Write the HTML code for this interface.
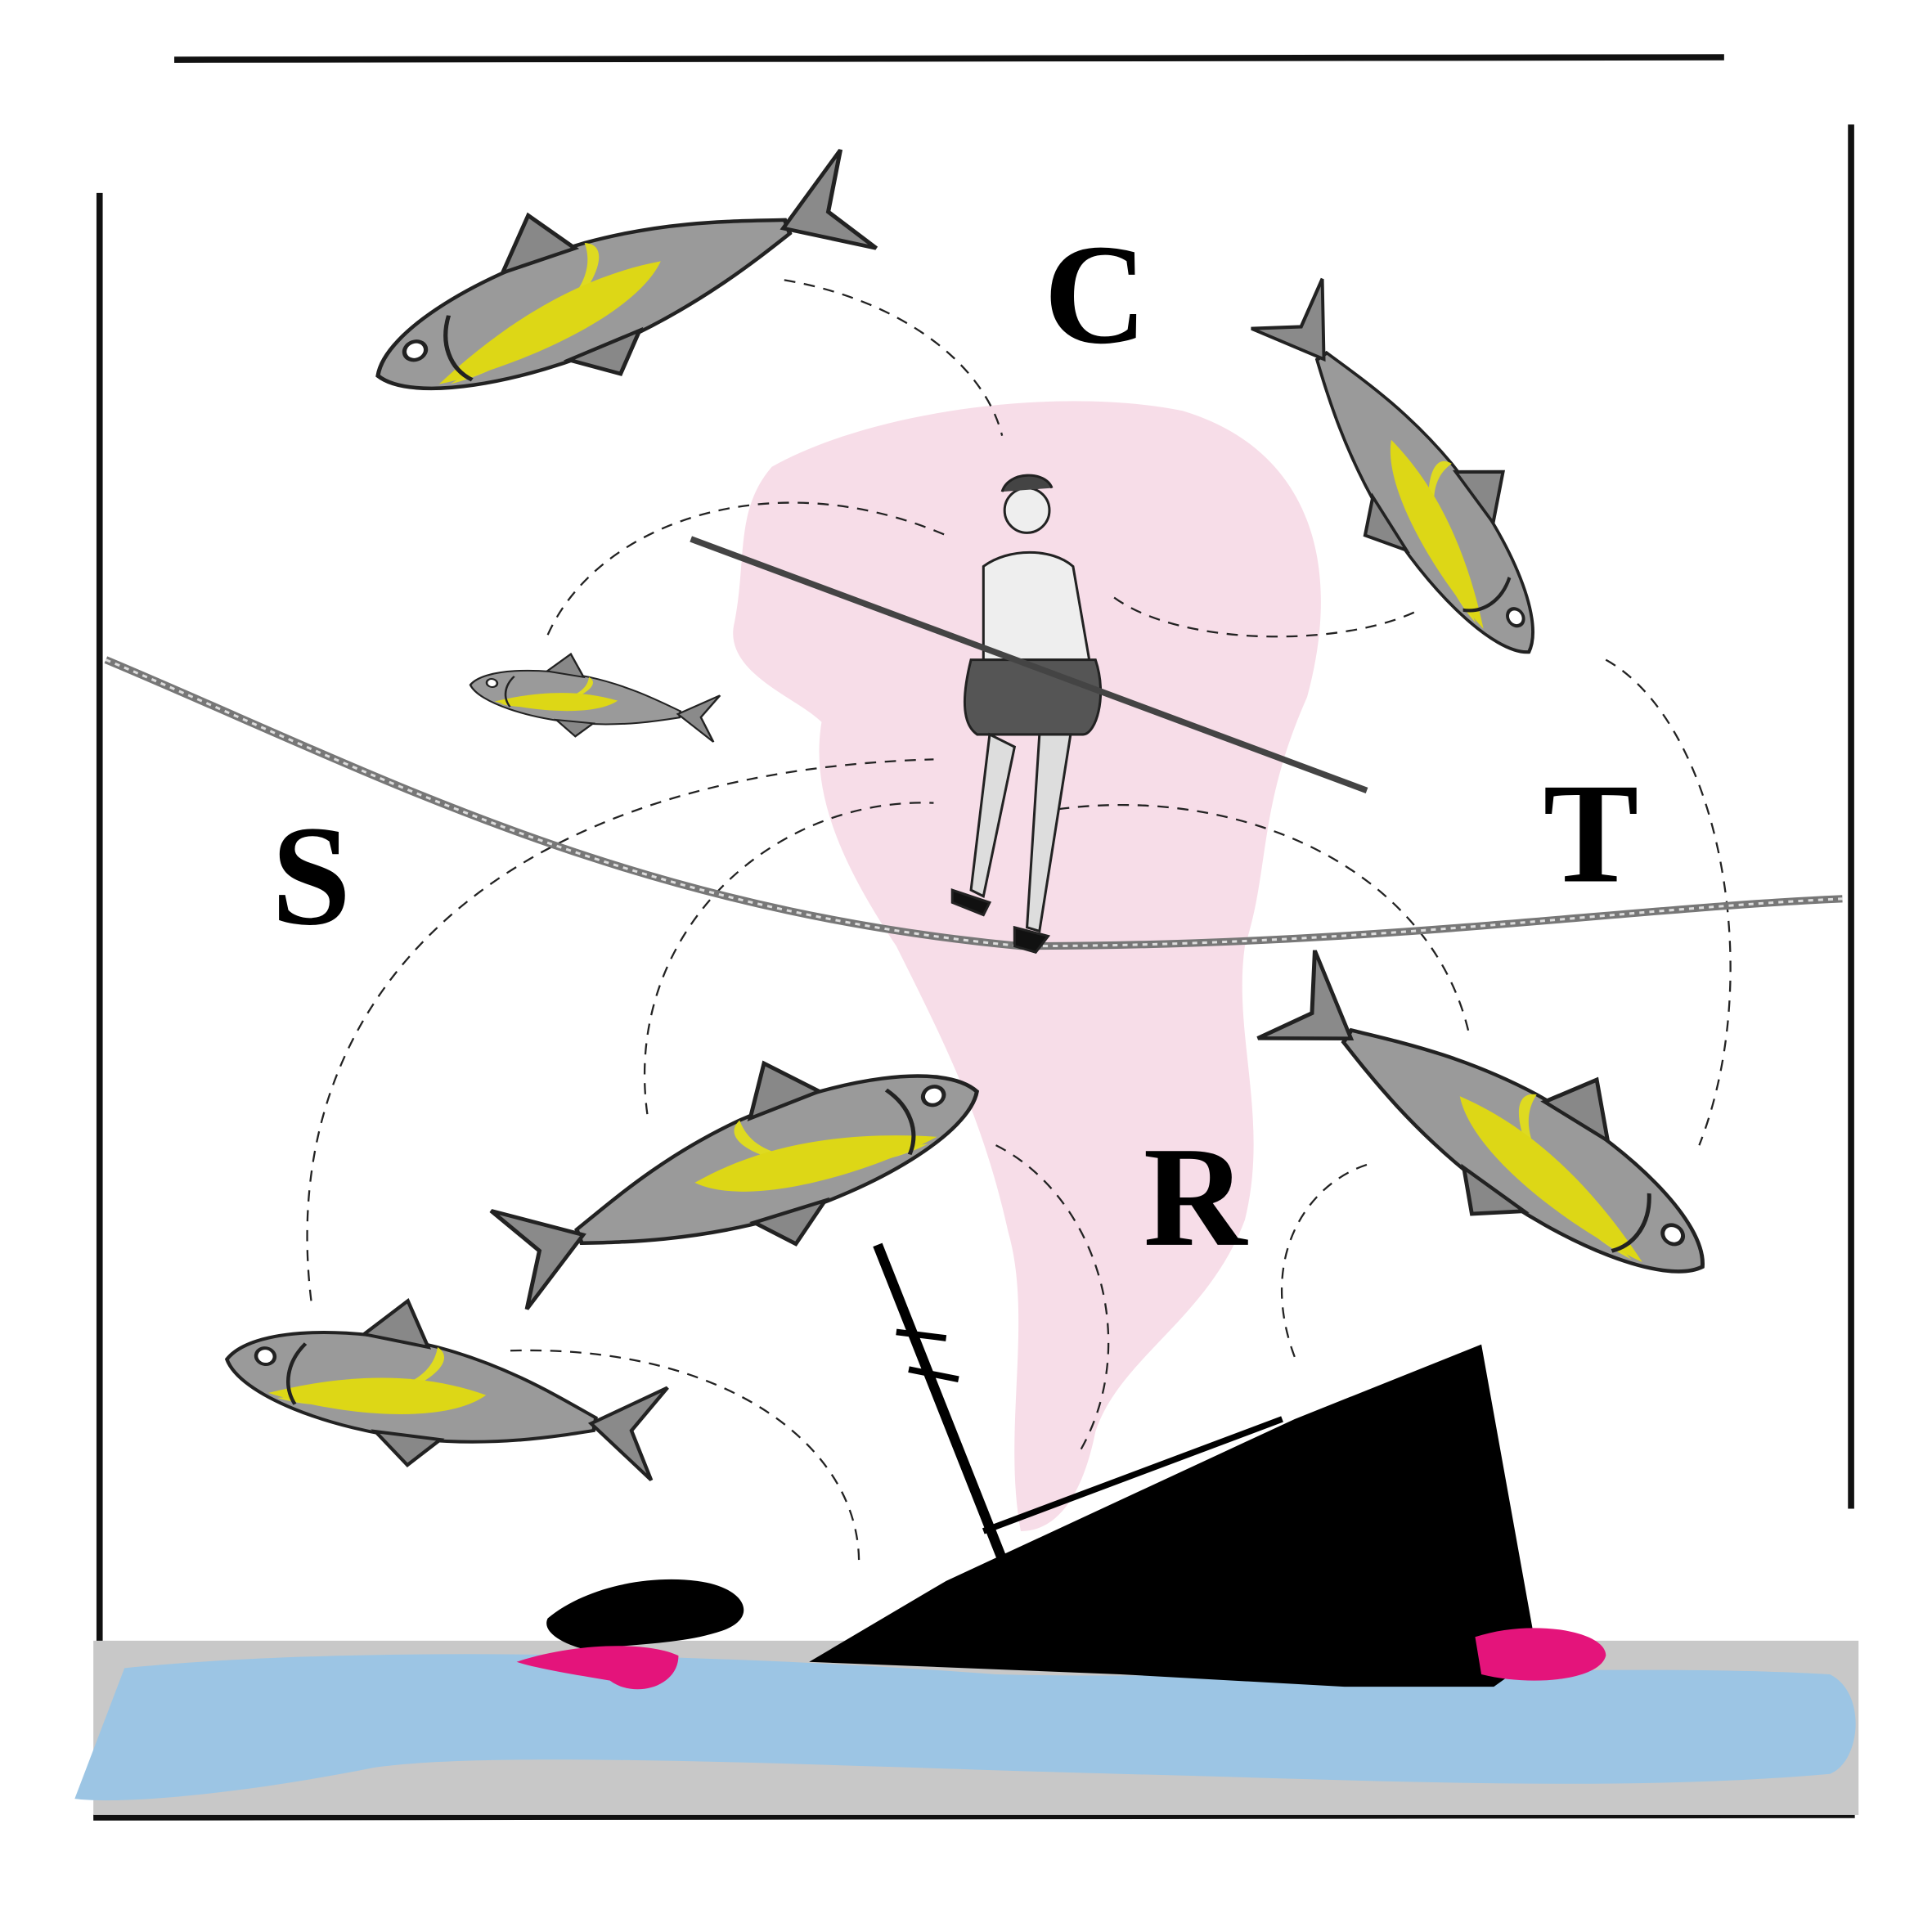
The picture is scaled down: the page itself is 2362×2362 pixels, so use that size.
<!DOCTYPE html>
<html><head><meta charset="utf-8"><style>
html,body{margin:0;padding:0;background:#fff}
svg{display:block}
</style></head><body>
<svg width="2362" height="2362" viewBox="0 0 1552 1552" xmlns="http://www.w3.org/2000/svg">
<defs>
<g id="fish">
 <path d="M100,0 C90,-22 40,-34 -10,-30 C-50,-26 -80,-12 -100,-4 L-100,4 C-80,12 -50,24 -10,28 C40,32 90,20 100,0 Z" fill="#9a9a9a" stroke="#222" stroke-width="2"/>
 <path d="M-10,-30 C-30,-20 20,25 70,18 C40,10 -10,5 -10,-30 Z" fill="#e2dd1a" opacity="0.95"/>
 <path d="M-40,-6 C-20,18 40,22 75,16 C40,-2 0,-14 -40,-6Z" fill="#ddd716"/>
 <path d="M-98,0 L-135,-30 L-120,0 L-135,28 Z" fill="#8a8a8a" stroke="#222" stroke-width="2"/>
 <path d="M-5,-29 L10,-55 L30,-30 Z" fill="#888" stroke="#222" stroke-width="2"/>
 <path d="M-20,26 L-5,45 L15,28 Z" fill="#888" stroke="#222" stroke-width="2"/>
 <circle cx="80" cy="-6" r="5" fill="#fff" stroke="#222" stroke-width="2"/>
 <path d="M60,-18 C68,-5 68,10 60,20" fill="none" stroke="#222" stroke-width="2"/>
</g>
</defs>
<path d="M620,375 C700,330 850,310 950,330 C1050,360 1080,450 1050,560 C1010,650 1020,700 1000,760 C990,830 1020,900 1000,980 C970,1060 900,1090 880,1150 C870,1200 850,1230 820,1230 C805,1150 830,1060 810,990 C790,900 760,840 720,760 C680,700 650,640 660,580 C640,560 580,540 590,500 C600,450 590,410 620,375 Z" fill="#f7dde8"/>
<path d="M140,48 L1385,46" stroke="#111" stroke-width="5"/>
<path d="M80,155 L80,1320" stroke="#111" stroke-width="5"/>
<path d="M1487,100 L1487,1212" stroke="#111" stroke-width="5"/>
<path d="M75,1460 L1490,1458" stroke="#111" stroke-width="5"/>
<rect x="75" y="1318" width="1418" height="140" fill="#c8c8c8"/>
<path d="M60,1445 L100,1340 C300,1320 600,1330 800,1345 C1000,1350 1300,1335 1470,1345 C1500,1360 1495,1415 1470,1425 C1300,1440 1100,1430 900,1425 C700,1420 400,1405 300,1420 C200,1440 100,1450 60,1445Z" fill="#9cc5e4"/>
<g fill="none" stroke="#222" stroke-width="1.5" stroke-dasharray="9 7">
<path d="M630,225 C720,240 790,290 805,350"/>
<path d="M440,510 C480,420 620,370 760,430"/>
<path d="M895,480 C950,520 1080,520 1140,490"/>
<path d="M1290,530 C1380,580 1420,780 1365,920"/>
<path d="M250,1045 C220,800 400,620 750,610"/>
<path d="M520,895 C500,750 620,640 750,645"/>
<path d="M850,650 C1000,630 1150,700 1180,830"/>
<path d="M800,920 C880,960 920,1080 865,1170"/>
<path d="M1040,1090 C1010,1010 1050,950 1100,935"/>
<path d="M410,1085 C580,1080 690,1160 690,1255"/>
</g>
<path d="M85,530 C300,620 500,730 820,760 C1100,760 1300,730 1480,722" fill="none" stroke="#777" stroke-width="6"/>
<path d="M85,530 C300,620 500,730 820,760 C1100,760 1300,730 1480,722" fill="none" stroke="#ddd" stroke-width="2" stroke-dasharray="4 4"/>
<use href="#fish" transform="translate(468,242) rotate(160) scale(1.75,-1.45)"/>
<use href="#fish" transform="translate(1145,405) rotate(55) scale(1.45,1.2)"/>
<use href="#fish" transform="translate(462,562) rotate(188) scale(-0.85,0.65) rotate(180)"/>
<use href="#fish" transform="translate(625,935) rotate(-20) scale(1.7,1.45)"/>
<use href="#fish" transform="translate(1225,925) rotate(33) scale(1.7,1.45)"/>
<use href="#fish" transform="translate(330,1118) rotate(190) scale(-1.5,1.3) rotate(180)"/>
<g stroke="#222" stroke-width="2">
<circle cx="825" cy="410" r="18" fill="#eee"/>
<path d="M805,395 C810,378 840,378 845,392" fill="#444"/>
<path d="M790,455 C810,440 845,440 862,455 L875,530 L790,530 Z" fill="#eee"/>
<path d="M780,530 L880,530 C890,560 880,590 870,590 L785,590 C770,580 775,550 780,530Z" fill="#555"/>
<path d="M795,590 L780,715 L790,720 L815,600 Z" fill="#ddd"/>
<path d="M835,590 L825,745 L835,748 L860,590 Z" fill="#ddd"/>
<path d="M765,715 L795,725 L790,735 L765,725Z" fill="#111"/>
<path d="M815,745 L842,752 L832,765 L815,760Z" fill="#111"/>
</g>
<path d="M555,433 L1098,635" stroke="#444" stroke-width="5"/>
<path d="M650,1335 L760,1270 L1040,1140 L1190,1080 L1235,1330 L1200,1355 L1080,1355 L900,1345 Z" fill="#000"/>
<path d="M705,1000 L810,1265" stroke="#000" stroke-width="8"/>
<path d="M720,1070 L760,1075 M730,1100 L770,1108" stroke="#000" stroke-width="5"/>
<path d="M790,1230 L1030,1140" stroke="#000" stroke-width="5"/>
<path d="M440,1300 C470,1275 520,1265 560,1270 C600,1275 610,1300 580,1310 C550,1320 520,1320 470,1325 C450,1320 435,1310 440,1300Z" fill="#000"/>
<path d="M1185,1315 C1230,1300 1290,1310 1290,1330 C1285,1350 1230,1355 1190,1345Z" fill="#e4147b"/>
<path d="M415,1335 C460,1320 520,1318 545,1330 C545,1355 510,1365 490,1350 C460,1345 430,1340 415,1335Z" fill="#e4147b"/>
<g font-family="'Liberation Serif',serif" font-weight="bold" fill="#000">
<text x="880" y="275" font-size="115" text-anchor="middle">C</text>
<text x="1278" y="708" font-size="115" text-anchor="middle">T</text>
<text x="250" y="742" font-size="115" text-anchor="middle">S</text>
<text x="960" y="1000" font-size="115" text-anchor="middle">R</text>
</g>
</svg>
</body></html>
